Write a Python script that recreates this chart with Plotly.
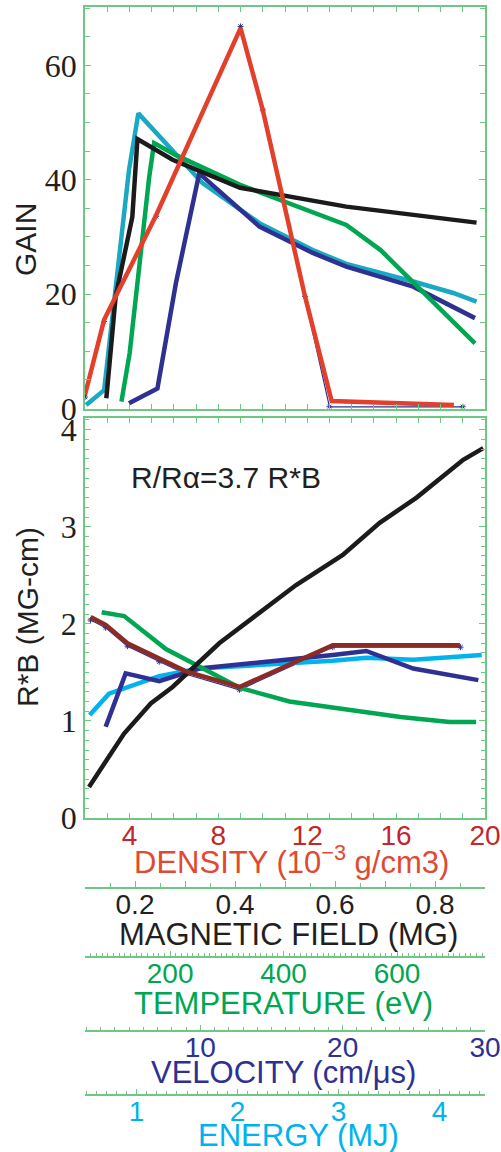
import plotly.graph_objects as go

# ---------------- data ----------------
# Top panel: GAIN vs density (10^-3 g/cm3)
red_x = [2.0, 2.86, 5.2, 9.0, 10.0, 11.9, 13.1, 18.6]
red_y = [2.4, 15.5, 33.8, 66.5, 52.2, 19.6, 1.3, 0.6]

cyan_x = [2.05, 2.86, 3.98, 4.4, 7.29, 9.85, 12.25, 13.76, 16.77, 18.57, 19.62]
cyan_y = [0.6, 3.2, 41.7, 51.6, 39.4, 32.4, 27.7, 25.3, 22.2, 20.2, 18.7]

black_x = [2.96, 3.38, 4.13, 4.36, 5.94, 8.98, 13.76, 19.62]
black_y = [1.8, 19.6, 33.5, 47.1, 43.5, 38.6, 35.3, 32.5]

green_x = [3.64, 4.01, 4.89, 5.11, 6.09, 8.98, 13.76, 15.3, 19.55]
green_y = [1.2, 9.7, 40.5, 46.4, 44.3, 39.1, 32.1, 27.7, 11.4]

navy_x = [3.98, 5.26, 6.09, 7.14, 9.85, 12.25, 13.76, 16.77, 19.55]
navy_y = [0.9, 3.5, 21.9, 41.1, 31.8, 27.2, 24.8, 21.3, 15.8]

star_top_x = [2.0, 2.86, 5.2, 9.0, 10.0, 11.9, 13.0, 19.0]
star_top_y = [2.0, 15.2, 33.6, 66.8, 52.2, 19.6, 0.3, 0.3]

# Bottom panel: R*B (MG-cm) vs density
rb_black_x = [2.18, 3.76, 4.96, 5.94, 8.04, 11.5, 13.6, 15.26, 16.92, 19.02, 19.92]
rb_black_y = [0.32, 0.87, 1.18, 1.35, 1.80, 2.40, 2.71, 3.04, 3.30, 3.69, 3.81]

rb_green_x = [2.75, 3.76, 5.64, 8.98, 11.2, 16.2, 18.4, 19.6]
rb_green_y = [2.12, 2.08, 1.74, 1.34, 1.20, 1.04, 0.99, 0.99]

rb_brown_x = [2.25, 2.93, 3.91, 5.34, 6.54, 8.95, 13.15, 18.87]
rb_brown_y = [2.07, 1.99, 1.80, 1.64, 1.51, 1.35, 1.78, 1.78]

rb_navy_x = [2.93, 3.83, 5.34, 7.14, 13.15, 14.66, 16.77, 19.7]
rb_navy_y = [0.94, 1.49, 1.41, 1.54, 1.68, 1.72, 1.54, 1.42]

rb_sky_x = [2.21, 3.08, 5.34, 7.14, 13.15, 14.66, 16.77, 19.85]
rb_sky_y = [1.06, 1.28, 1.46, 1.54, 1.62, 1.65, 1.63, 1.68]

star_bot_x = [2.25, 2.93, 3.91, 5.34, 6.54, 8.95, 13.15, 18.9]
star_bot_y = [2.04, 1.96, 1.77, 1.61, 1.48, 1.32, 1.76, 1.76]

# axis ranges / tick labels
density_range = [2, 20]
density_ticks = [4, 8, 12, 16, 20]
gain_range = [0, 70.2]
gain_ticks = [0, 20, 40, 60]
rb_range = [0, 4.12]
rb_ticks = [0, 1, 2, 3, 4]
mag_range = [0.1, 0.9]
mag_tickvals = [0.1, 0.2, 0.3, 0.4, 0.5, 0.6, 0.7, 0.8, 0.9]
mag_ticktext = ["", "0.2", "", "0.4", "", "0.6", "", "0.8", ""]
temp_range = [50, 755]
temp_ticks = [200, 400, 600]
vel_range = [1.9, 30]
vel_ticks = [10, 20, 30]
energy_range = [0.49, 4.45]
energy_ticks = [1, 2, 3, 4]

# ---------------- styling ----------------
W, H = 501, 1152
ML, MR, MT, MB = 85, 16, 7, 5
PW, PH = W - ML - MR, H - MT - MB

def fy(py):
    return (H - MB - py) / PH

def fx(px):
    return (px - ML) / PW

FRAME = "#6cc883"
RED = "#e2402b"
TEAL = "#1ba8c3"
BLACK = "#1c1a1a"
GREEN = "#00a651"
NAVY = "#2e3192"
SKY = "#00b3ee"
BROWN = "#8b2b25"
DENS_LBL = "#c1272d"
DENS_TTL = "#e04a32"
TXT = "#231f20"
SANS = "Liberation Sans"
SERIF = "Liberation Serif"
LW = 4.5
XSTAND = -8

fig = go.Figure()

def line(x, y, color, xa, ya, width=LW):
    fig.add_trace(go.Scatter(x=x, y=y, mode="lines", xaxis=xa, yaxis=ya,
                             line=dict(color=color, width=width),
                             showlegend=False, hoverinfo="skip"))

def stars(x, y, xa, ya):
    fig.add_trace(go.Scatter(x=x, y=y, mode="lines+markers", xaxis=xa, yaxis=ya,
                             line=dict(color=NAVY, width=1.2),
                             marker=dict(symbol="asterisk-open", size=5,
                                         line=dict(color="#5a6ad0", width=1)),
                             showlegend=False, hoverinfo="skip"))

# top panel
stars(star_top_x, star_top_y, "x", "y")
line(cyan_x, cyan_y, TEAL, "x", "y")
line(navy_x, navy_y, NAVY, "x", "y")
line(green_x, green_y, GREEN, "x", "y")
line(black_x, black_y, BLACK, "x", "y")
line(red_x, red_y, RED, "x", "y")

# bottom panel
stars(star_bot_x, star_bot_y, "x2", "y2")
line(rb_sky_x, rb_sky_y, SKY, "x2", "y2")
line(rb_navy_x, rb_navy_y, NAVY, "x2", "y2")
line(rb_green_x, rb_green_y, GREEN, "x2", "y2")
line(rb_black_x, rb_black_y, BLACK, "x2", "y2")
line(rb_brown_x, rb_brown_y, BROWN, "x2", "y2")

# dummy traces so the extra scales are drawn
for xa, rng in [("x3", mag_range), ("x4", temp_range), ("x5", vel_range), ("x6", energy_range)]:
    fig.add_trace(go.Scatter(x=rng, y=[None, None], xaxis=xa, yaxis="y2", mode="lines",
                             showlegend=False, hoverinfo="skip"))

frame = dict(showline=True, linecolor=FRAME, linewidth=1.6, mirror="ticks",
             ticks="inside", tickcolor=FRAME, tickwidth=1.4, showgrid=False,
             zeroline=False, automargin=False)

top_dom = [fy(408.5), fy(7)]
bot_dom = [fy(818), fy(418)]

fig.update_layout(
    template="none",
    width=W, height=H,
    margin=dict(l=ML, r=MR, t=MT, b=MB, autoexpand=False),
    paper_bgcolor="white", plot_bgcolor="white",
    showlegend=False,
    xaxis=dict(domain=[0, 1], range=density_range, anchor="y", dtick=1, ticklen=5,
               showticklabels=False, **frame),
    yaxis=dict(domain=top_dom, range=gain_range, anchor="x", tickvals=gain_ticks,
               ticklen=6, minor=dict(dtick=5, ticklen=5, tickcolor=FRAME, ticks="inside"),
               tickfont=dict(family=SERIF, size=32, color=TXT), **frame),
    xaxis2=dict(domain=[0, 1], range=density_range, anchor="y2", tickvals=density_ticks,
                ticklen=5, minor=dict(dtick=1, ticklen=5, tickcolor=FRAME, ticks="inside"),
                ticklabelstandoff=XSTAND,
                tickfont=dict(family=SANS, size=28, color=DENS_LBL), **frame),
    yaxis2=dict(domain=bot_dom, range=rb_range, anchor="x2", tickvals=rb_ticks,
                ticklen=6, minor=dict(dtick=0.1, ticklen=4, tickcolor=FRAME, ticks="inside"),
                tickfont=dict(family=SERIF, size=32, color=TXT), **frame),
)

def extra_axis(pos, rng, color, **kw):
    return dict(anchor="free", position=pos, overlaying="x2", side="bottom", range=rng,
                showline=True, linecolor=FRAME, linewidth=1.6, ticks="inside",
                tickcolor=FRAME, tickwidth=1.3, showgrid=False, zeroline=False,
                automargin=False, ticklabelstandoff=XSTAND,
                tickfont=dict(family=SANS, size=28, color=color), **kw)

fig.update_layout(
    xaxis3=extra_axis(fy(888), mag_range, TXT, tickvals=mag_tickvals, ticktext=mag_ticktext,
                      ticklen=6, minor=dict(dtick=0.05, ticklen=4, tickcolor=FRAME, ticks="inside")),
    xaxis4=extra_axis(fy(957), temp_range, GREEN, tickvals=temp_ticks, ticklen=5,
                      minor=dict(dtick=10, ticklen=3, tickcolor=FRAME, ticks="inside")),
    xaxis5=extra_axis(fy(1031), vel_range, NAVY, tickvals=vel_ticks, ticklen=5,
                      minor=dict(dtick=1, ticklen=3, tickcolor=FRAME, ticks="inside")),
    xaxis6=extra_axis(fy(1095), energy_range, SKY, tickvals=energy_ticks, ticklen=5,
                      minor=dict(dtick=0.1, ticklen=3, tickcolor=FRAME, ticks="inside")),
)

def ann(text, px, py, color, size=31, angle=0):
    fig.add_annotation(text=text, x=fx(px), y=fy(py), xref="paper", yref="paper",
                       showarrow=False, textangle=angle, xanchor="center", yanchor="middle",
                       font=dict(family=SANS, size=size, color=color))

ann("GAIN", 26, 240, TXT, 30, -90)
ann("R*B (MG-cm)", 27, 617, TXT, 30, -90)
ann("R/Rα=3.7 R*B", 226, 478, TXT, 30)
ann("DENSITY (10<sup>−3</sup> g/cm3)", 291, 860, DENS_TTL)
ann("MAGNETIC FIELD (MG)", 288, 934, TXT)
ann("TEMPERATURE (eV)", 283, 1003, GREEN)
ann("VELOCITY (cm/μs)", 283, 1072, NAVY)
ann("ENERGY (MJ)", 298, 1135, SKY)

fig.write_html("out.html")
